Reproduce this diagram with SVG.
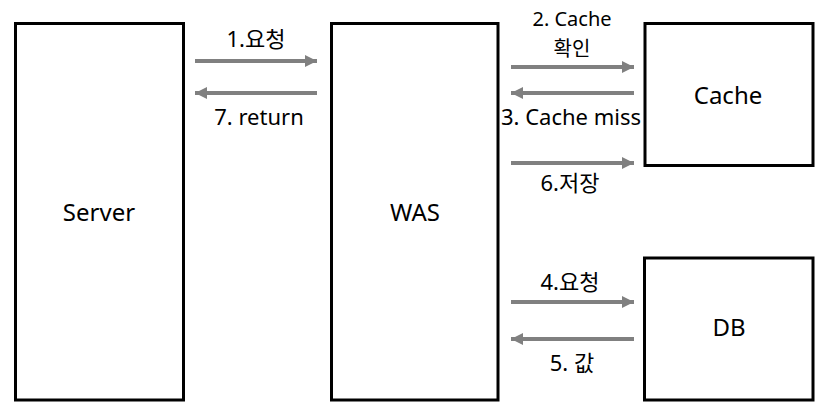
<svg xmlns="http://www.w3.org/2000/svg" width="836" height="419" viewBox="0 0 836 419">
<defs>
<style>
.box{fill:#fff;stroke:#000;stroke-width:3}
.t{font-family:"Noto Sans","Noto Sans CJK KR",sans-serif;font-size:22px;fill:#000;text-anchor:middle}
.n{font-size:24px}
.s{font-size:20px}
.a{stroke:#808080;stroke-width:4;fill:none;marker-end:url(#ah)}
</style>
<marker id="ah" markerUnits="userSpaceOnUse" viewBox="0 0 12 12" refX="12" refY="6" markerWidth="12" markerHeight="12" orient="auto">
<path d="M0,0 L12,6 L0,12 Z" fill="#808080"/>
</marker>
</defs>
<rect width="836" height="419" fill="#fff"/>
<g id="server"><rect class="box" x="15.5" y="23.5" width="168" height="376.5"/><text class="t n" x="99" y="221">Server</text></g>
<g id="was"><rect class="box" x="331.5" y="23.5" width="166.5" height="376.5"/><text class="t n" x="415" y="221">WAS</text></g>
<g id="cache"><rect class="box" x="645" y="23.5" width="168" height="142"/><text class="t n" x="728" y="104">Cache</text></g>
<g id="db"><rect class="box" x="644.5" y="258" width="168.5" height="142"/><text class="t n" x="729" y="336">DB</text></g>
<g id="connectors">
<line class="a" x1="195" y1="61" x2="317" y2="61"/>
<line class="a" x1="317" y1="93" x2="195" y2="93"/>
<line class="a" x1="511" y1="67" x2="634" y2="67"/>
<line class="a" x1="634" y1="93" x2="511" y2="93"/>
<line class="a" x1="511" y1="163" x2="634" y2="163"/>
<line class="a" x1="511" y1="302" x2="634" y2="302"/>
<line class="a" x1="634" y1="339" x2="511" y2="339"/>
<text class="t" x="256" y="47">1.요청</text>
<text class="t" x="259" y="125">7. return</text>
<text class="t s" x="572" y="26">2. Cache</text>
<text class="t s" x="572" y="56">확인</text>
<text class="t" x="571" y="125">3. Cache miss</text>
<text class="t" x="570" y="191">6.저장</text>
<text class="t" x="570" y="290">4.요청</text>
<text class="t" x="572" y="371">5. 값</text>
</g>
</svg>
